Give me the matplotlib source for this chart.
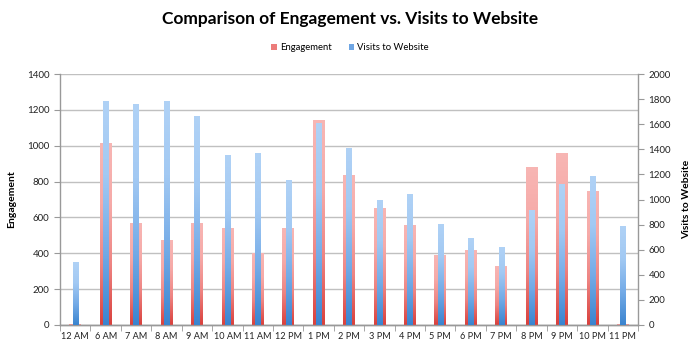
import matplotlib
matplotlib.use("Agg")
import matplotlib.pyplot as plt
import numpy as np
from matplotlib.colors import LinearSegmentedColormap
from matplotlib.patches import Patch

categories = ["12 AM", "6 AM", "7 AM", "8 AM", "9 AM", "10 AM", "11 AM", "12 PM", "1 PM",
              "2 PM", "3 PM", "4 PM", "5 PM", "6 PM", "7 PM", "8 PM", "9 PM", "10 PM", "11 PM"]
engagement = [5, 1015, 570, 475, 570, 540, 400, 540, 1145,
              835, 650, 560, 390, 420, 330, 880, 960, 750, 5]
visits = [500, 1785, 1758, 1788, 1663, 1355, 1370, 1155, 1607,
          1408, 1000, 1040, 805, 690, 625, 915, 1125, 1190, 790]

plt.rcParams['font.family'] = ['Lato', 'DejaVu Sans']

fig = plt.figure(figsize=(7.0, 3.49), dpi=100)
ax = fig.add_axes([60/700, 1 - 325/349, (638-60)/700, (325-74)/349])
ax2 = ax.twinx()

x = np.arange(len(categories))
red_cmap = LinearSegmentedColormap.from_list("r", ["#d9403c", "#ee8482", "#f6aaa8", "#f8b6b4"])
blue_cmap = LinearSegmentedColormap.from_list("b", ["#3a84cf", "#74abe7", "#a2c9f3", "#b0d2f6"])
grad = np.linspace(0, 1, 256).reshape(-1, 1)

def grad_bars(axis, vals, width, cmap, z):
    bars = axis.bar(x, vals, width=width, color='none', edgecolor='none', zorder=z)
    for b in bars:
        h = b.get_height()
        if h <= 0:
            continue
        im = axis.imshow(grad, cmap=cmap, origin='lower', aspect='auto',
                         extent=[b.get_x(), b.get_x() + b.get_width(), 0, h],
                         zorder=z, interpolation='bicubic')
        im.set_clip_path(b)
    return bars

grad_bars(ax, engagement, 0.38, red_cmap, 3)
grad_bars(ax2, visits, 0.17, blue_cmap, 4)
ax.set_xlim(-0.5, len(categories) - 0.5)
ax.set_ylim(0, 1400)
ax2.set_ylim(0, 2000)

ax.set_yticks(np.arange(0, 1401, 200))
ax2.set_yticks(np.arange(0, 2001, 200))
ax.yaxis.grid(True, color='#c0c0c0', linewidth=1.0, zorder=0)
ax.set_axisbelow(True)

ax.set_xticks(x)
ax.set_xticklabels(categories)
ax.set_xticks(np.arange(-0.5, len(categories), 1), minor=True)
ax.tick_params(axis='x', which='major', length=0, labelsize=6.6, pad=5, colors='#222222')
ax.tick_params(axis='x', which='minor', length=4, color='#999999', direction='out')
ax.tick_params(axis='y', labelsize=7, length=4, color='#999999', colors='#222222', direction='out')
ax2.tick_params(axis='y', labelsize=7, length=4, color='#999999', colors='#222222', direction='out')

for a in (ax, ax2):
    a.spines['top'].set_visible(False)
    for s in ('left', 'right', 'bottom'):
        a.spines[s].set_color('#999999')
        a.spines[s].set_linewidth(1.0)
ax.spines['right'].set_visible(False)
ax2.spines['left'].set_visible(False)

ax.set_ylabel("Engagement", fontsize=7.5, fontweight='bold', labelpad=8)
ax2.set_ylabel("Visits to Website", fontsize=7.5, fontweight='bold', labelpad=8)

fig.text(0.5, 1 - 19/349, "Comparison of Engagement vs. Visits to Website",
         ha='center', va='center', fontsize=12.5, fontweight='bold', color='black')

handles = [Patch(facecolor='#ec7c7a', edgecolor='none'), Patch(facecolor='#6fa6e4', edgecolor='none')]
fig.legend(handles, ["Engagement", "Visits to Website"], loc='center',
           bbox_to_anchor=(0.5, 1 - 48/349), ncol=2, frameon=False, fontsize=6.8,
           handlelength=0.6, handleheight=0.6, handletextpad=0.3, columnspacing=1.8)

fig.savefig("out.png", dpi=100, facecolor='white')
